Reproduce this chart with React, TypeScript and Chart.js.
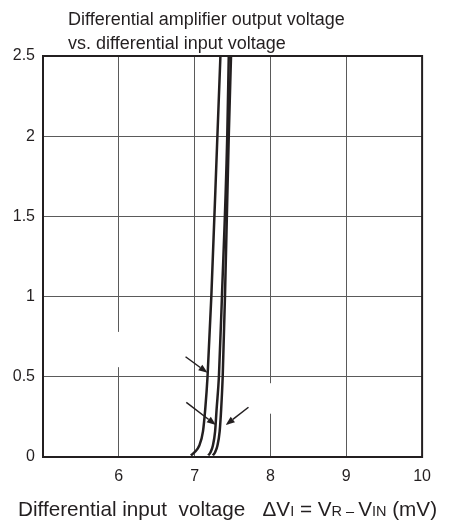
import React, { useEffect, useRef } from "react";
import { Chart, registerables } from "chart.js";

Chart.register(...registerables);

// ---- data ----
const xTicks = [5, 6, 7, 8, 9, 10];
const yTicks = [0, 0.5, 1, 1.5, 2, 2.5];

const curveYs = [0.01, 0.03, 0.07, 0.16, 0.3, 0.5, 1.0, 2.0, 2.5];
const curveAX = [6.95, 7.0, 7.06, 7.11, 7.14, 7.17, 7.22, 7.3, 7.34];
const curveBX = [7.18, 7.21, 7.24, 7.27, 7.29, 7.32, 7.36, 7.43, 7.45];
const curveCX = [7.24, 7.27, 7.3, 7.33, 7.35, 7.37, 7.4, 7.45, 7.48];

const arrowFromX = [6.88, 6.89, 7.71];
const arrowFromY = [0.625, 0.34, 0.31];
const arrowToX = [7.17, 7.28, 7.41];
const arrowToY = [0.525, 0.2, 0.2];

const gapX = [6, 8];
const gapYLow = [0.56, 0.27];
const gapYHigh = [0.78, 0.46];

const titleLines = [
  "Differential amplifier output voltage",
  "vs. differential input voltage",
];
// [text, small?]
const xTitleParts: [string, boolean][] = [
  ["Differential input  voltage   \u0394V", false],
  ["I", true],
  [" = V", false],
  ["R", true],
  [" \u2013 ", true],
  ["V", false],
  ["IN", true],
  [" (mV)", false],
];

const INK = "#231f20";
const FONT = "'Liberation Sans', Arial, sans-serif";

const toPts = (xs: number[], ys: number[]) => xs.map((x, i) => ({ x, y: ys[i] }));

const overlay = {
  id: "overlay",
  beforeDatasetsDraw(chart: any) {
    const { ctx, scales } = chart;
    const xs = scales.x, ys = scales.y;
    ctx.save();
    ctx.fillStyle = "#ffffff";
    gapX.forEach((gx, i) => {
      const px = xs.getPixelForValue(gx);
      const y1 = ys.getPixelForValue(gapYHigh[i]);
      const y2 = ys.getPixelForValue(gapYLow[i]);
      ctx.fillRect(px - 2, y1, 4, y2 - y1);
    });
    ctx.restore();
  },
  afterDraw(chart: any) {
    const { ctx, chartArea, scales } = chart;
    const xs = scales.x, ys = scales.y;
    ctx.save();
    // frame
    ctx.strokeStyle = INK;
    ctx.lineWidth = 2;
    ctx.strokeRect(chartArea.left, chartArea.top, chartArea.right - chartArea.left, chartArea.bottom - chartArea.top);

    // arrows
    ctx.strokeStyle = INK;
    ctx.fillStyle = INK;
    ctx.lineWidth = 1.5;
    arrowFromX.forEach((fx, i) => {
      const x1 = xs.getPixelForValue(fx), y1 = ys.getPixelForValue(arrowFromY[i]);
      const x2 = xs.getPixelForValue(arrowToX[i]), y2 = ys.getPixelForValue(arrowToY[i]);
      const ang = Math.atan2(y2 - y1, x2 - x1);
      const hl = 9, hw = 3.5;
      const bx = x2 - hl * Math.cos(ang), by = y2 - hl * Math.sin(ang);
      ctx.beginPath();
      ctx.moveTo(x1, y1);
      ctx.lineTo(bx, by);
      ctx.stroke();
      ctx.beginPath();
      ctx.moveTo(x2, y2);
      ctx.lineTo(bx + hw * Math.sin(ang), by - hw * Math.cos(ang));
      ctx.lineTo(bx - hw * Math.sin(ang), by + hw * Math.cos(ang));
      ctx.closePath();
      ctx.fill();
    });

    // title
    ctx.fillStyle = INK;
    ctx.font = `18px ${FONT}`;
    ctx.textAlign = "left";
    ctx.textBaseline = "alphabetic";
    titleLines.forEach((t, i) => {
      ctx.fillText(t, chartArea.left + 25, 17 + i * 24);
    });

    // x axis title with subscripts
    const big = `20.7px ${FONT}`, small = `14.5px ${FONT}`;
    let total = 0;
    xTitleParts.forEach(([t, s]) => {
      ctx.font = s ? small : big;
      total += ctx.measureText(t).width;
    });
    let cx = 219.5 - total / 2;
    const by = chart.height - 7;
    xTitleParts.forEach(([t, s]) => {
      ctx.font = s ? small : big;
      ctx.fillText(t, cx, by);
      cx += ctx.measureText(t).width;
    });
    ctx.restore();
  },
};

export default function App() {
  const ref = useRef<HTMLCanvasElement | null>(null);
  useEffect(() => {
    if (!ref.current) return;
    const line = (xs: number[]) => ({
      data: toPts(xs, curveYs),
      showLine: true,
      borderColor: INK,
      borderWidth: 2.5,
      pointRadius: 0,
      cubicInterpolationMode: "monotone" as const,
      fill: false,
    });
    const chart = new Chart(ref.current, {
      type: "scatter",
      data: { datasets: [line(curveAX), line(curveBX), line(curveCX)] },
      plugins: [overlay],
      options: {
        animation: false,
        responsive: false,
        maintainAspectRatio: false,
        layout: { padding: { top: 48, right: 18, bottom: 0, left: 0 } },
        plugins: { legend: { display: false }, tooltip: { enabled: false }, title: { display: false } },
        scales: {
          x: {
            type: "linear",
            min: xTicks[0],
            max: xTicks[xTicks.length - 1],
            afterBuildTicks: (s: any) => { s.ticks = xTicks.map((v) => ({ value: v })); },
            afterFit: (s: any) => { s.height = 66; },
            ticks: {
              color: INK,
              font: { size: 16, family: FONT },
              padding: 10,
              callback: (v: any) => (v === xTicks[0] ? "" : String(v)),
            },
            grid: { color: "#5a5a5a", lineWidth: 1, drawTicks: false },
            border: { display: false },
          },
          y: {
            type: "linear",
            min: yTicks[0],
            max: yTicks[yTicks.length - 1],
            afterBuildTicks: (s: any) => { s.ticks = yTicks.map((v) => ({ value: v })); },
            afterFit: (s: any) => { s.width = 35; },
            ticks: {
              color: INK,
              font: { size: 16, family: FONT },
              padding: 8,
              callback: (v: any) => String(v),
            },
            grid: { color: "#5a5a5a", lineWidth: 1, drawTicks: false },
            border: { display: false },
          },
        },
      },
    } as any);
    return () => chart.destroy();
  }, []);
  return (
    <div style={{ width: 433, height: 515 }}>
      <canvas ref={ref} width={433} height={515} style={{ display: "block" }} />
    </div>
  );
}
